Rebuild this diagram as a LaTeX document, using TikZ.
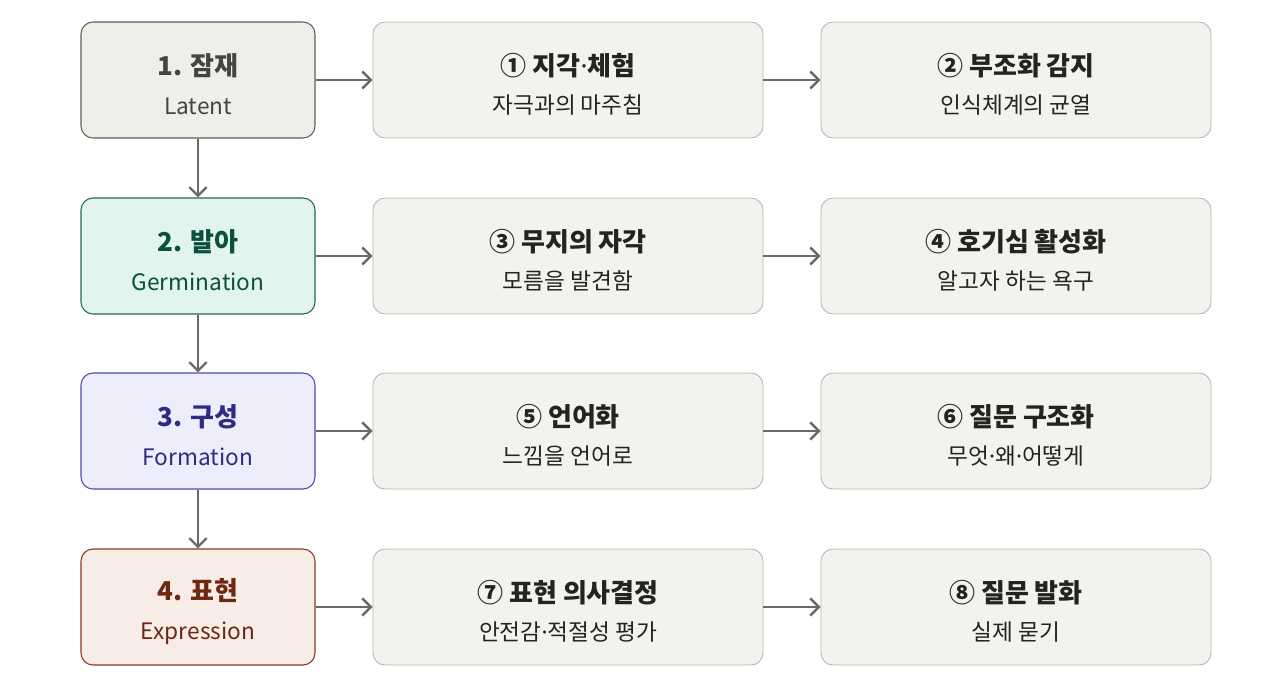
\documentclass[tikz,border=0pt]{standalone}
\usepackage{fontspec}
\usepackage{xcolor}
\setmainfont{Noto Sans CJK KR}
\newfontfamily\latinfont{Noto Sans}
\usetikzlibrary{arrows.meta}
\definecolor{latentfill}{HTML}{EFEEE9}
\definecolor{latentline}{HTML}{5F5E5A}
\definecolor{latenttext}{HTML}{444441}
\definecolor{germfill}{HTML}{E2F4EE}
\definecolor{germline}{HTML}{1D6B55}
\definecolor{germtext}{HTML}{0B4F3F}
\definecolor{formfill}{HTML}{EEEDFC}
\definecolor{formline}{HTML}{4F48B0}
\definecolor{formtext}{HTML}{2E2B85}
\definecolor{exprfill}{HTML}{F8ECE7}
\definecolor{exprline}{HTML}{8A3A1E}
\definecolor{exprtext}{HTML}{6E2812}
\definecolor{stepfill}{HTML}{F3F2EE}
\definecolor{stepline}{HTML}{B4B2AA}
\definecolor{steptext}{HTML}{232321}
\definecolor{arrowgray}{HTML}{6B6A66}
\newcommand{\subline}[1]{\rule{0pt}{23pt}\\[7pt]{\fontsize{17}{20}\selectfont\mdseries #1}}
\newcommand{\mdot}{{\latinfont ·}}
\tikzset{
    stage-box/.style = {draw, rectangle, rounded corners=9pt, line width=0.8pt, minimum width=175.5pt, minimum height=87pt, align=center, font=\fontsize{19.5}{22}\selectfont\bfseries},
    step-box/.style = {stage-box, draw=stepline, fill=stepfill, text=steptext, minimum width=292.5pt, line width=0.6pt},
    flow/.style = {draw=arrowgray, line width=2pt, -{Straight Barb[length=6.5pt,width=13pt,line width=1.8pt]}},
}

\begin{document}
\begin{tikzpicture}[x=0.75pt,y=-0.75pt]
\useasboundingbox (0,0) rectangle (1280,682);
% stages
\node [stage-box, draw=latentline, fill=latentfill, text=latenttext] (latent) at (198,80) {1. 잠재\subline{Latent}};
\node [stage-box, draw=germline, fill=germfill, text=germtext] (germination) at (198,256) {2. 발아\subline{Germination}};
\node [stage-box, draw=formline, fill=formfill, text=formtext] (formation) at (198,431) {3. 구성\subline{Formation}};
\node [stage-box, draw=exprline, fill=exprfill, text=exprtext] (expression) at (198,607) {4. 표현\subline{Expression}};

% steps
\node [step-box] (perceive) at (568,80) {① 지각\mdot 체험\subline{자극과의 마주침}};
\node [step-box] (mismatch) at (1016,80) {② 부조화 감지\subline{인식체계의 균열}};
\node [step-box] (ignorance) at (568,256) {③ 무지의 자각\subline{모름을 발견함}};
\node [step-box] (curiosity) at (1016,256) {④ 호기심 활성화\subline{알고자 하는 욕구}};
\node [step-box] (verbalize) at (568,431) {⑤ 언어화\subline{느낌을 언어로}};
\node [step-box] (structure) at (1016,431) {⑥ 질문 구조화\subline{무엇\mdot 왜\mdot 어떻게}};
\node [step-box] (decide) at (568,607) {⑦ 표현 의사결정\subline{안전감\mdot 적절성 평가}};
\node [step-box] (utter) at (1016,607) {⑧ 질문 발화\subline{실제 묻기}};

% arrows
\draw [flow] (latent) -- (germination);
\draw [flow] (germination) -- (formation);
\draw [flow] (formation) -- (expression);
\draw [flow] (latent) -- (perceive);
\draw [flow] (perceive) -- (mismatch);
\draw [flow] (germination) -- (ignorance);
\draw [flow] (ignorance) -- (curiosity);
\draw [flow] (formation) -- (verbalize);
\draw [flow] (verbalize) -- (structure);
\draw [flow] (expression) -- (decide);
\draw [flow] (decide) -- (utter);
\end{tikzpicture}
\end{document}
